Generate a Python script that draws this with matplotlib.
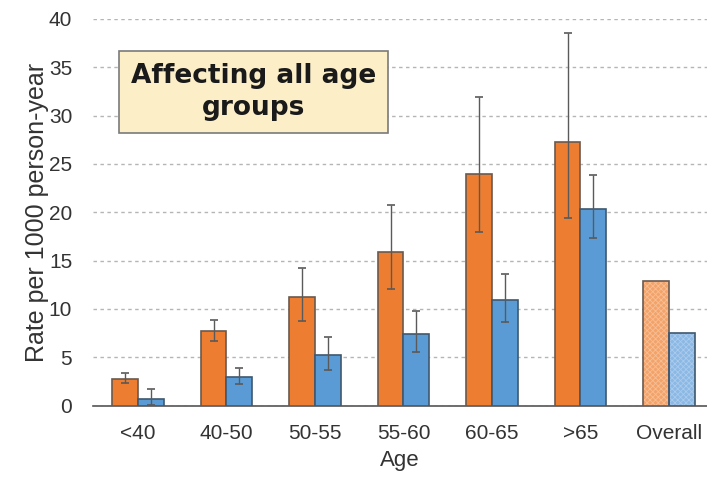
import numpy as np
import matplotlib.pyplot as plt

# data
ages = ['<40', '40-50', '50-55', '55-60', '60-65', '>65', 'Overall']
orange = [2.7, 7.7, 11.2, 15.9, 24.0, 27.3, 12.9]
orange_lo = [2.3, 6.7, 8.7, 12.1, 18.0, 19.4]
orange_hi = [3.35, 8.8, 14.2, 20.8, 31.9, 38.5]
blue = [0.7, 2.95, 5.2, 7.45, 10.9, 20.3, 7.5]
blue_lo = [0.1, 2.2, 3.7, 5.5, 8.6, 17.3]
blue_hi = [1.7, 3.9, 7.1, 9.8, 13.6, 23.9]

plt.rcParams['font.family'] = ['Liberation Sans', 'DejaVu Sans']
plt.rcParams['hatch.linewidth'] = 0.6

fig = plt.figure(figsize=(7.07, 4.82), dpi=100)
ax = fig.add_axes([0.1315, 0.1587, 0.8685, 0.8019])

x = np.arange(len(ages))
w = 0.29
n = len(orange_lo)
c_or, c_bl = '#ED7D31', '#5B9BD5'
e_or, e_bl = '#6b5a4e', '#3f5870'

ax.bar(x[:n] - w / 2, orange[:n], w, color=c_or, edgecolor=e_or, linewidth=1.2, zorder=3)
ax.bar(x[:n] + w / 2, blue[:n], w, color=c_bl, edgecolor=e_bl, linewidth=1.2, zorder=3)

# overall bars: lighter, fine texture
ax.bar(x[n:] - w / 2, orange[n:], w, color='#F3A36A', edgecolor='#F7BE94', hatch='xxxxxx',
       linewidth=0, zorder=3)
ax.bar(x[n:] + w / 2, blue[n:], w, color='#8BB8E4', edgecolor='#AACBEC', hatch='xxxxxx',
       linewidth=0, zorder=3)
ax.bar(x[n:] - w / 2, orange[n:], w, fill=False, edgecolor=e_or, linewidth=1.2, zorder=4)
ax.bar(x[n:] + w / 2, blue[n:], w, fill=False, edgecolor=e_bl, linewidth=1.2, zorder=4)

# error bars
o_err = [np.array(orange[:n]) - np.array(orange_lo), np.array(orange_hi) - np.array(orange[:n])]
b_err = [np.array(blue[:n]) - np.array(blue_lo), np.array(blue_hi) - np.array(blue[:n])]
ax.errorbar(x[:n] - w / 2, orange[:n], yerr=o_err, fmt='none', ecolor='#5a5a5a',
            elinewidth=1, capsize=3, capthick=1.2, zorder=5)
ax.errorbar(x[:n] + w / 2, blue[:n], yerr=b_err, fmt='none', ecolor='#5a5a5a',
            elinewidth=1, capsize=3, capthick=1.2, zorder=5)

ax.set_ylim(0, 40)
ax.set_xlim(-0.508, 6.43)
ax.set_yticks(range(0, 41, 5))
ax.set_xticks(x)
ax.set_xticklabels(ages)
ax.tick_params(axis='both', labelsize=15, colors='#333333', length=0)
ax.tick_params(axis='y', pad=15)
ax.tick_params(axis='x', pad=13)
ax.yaxis.grid(True, linestyle=(0, (2.5, 2.5)), color='#b5b5b5', linewidth=1)
ax.set_axisbelow(True)
for s in ['top', 'right', 'left']:
    ax.spines[s].set_visible(False)
ax.spines['bottom'].set_color('#555555')
ax.spines['bottom'].set_linewidth(1.2)

ax.set_xlabel('Age', fontsize=16, color='#333333', labelpad=5)
ax.set_ylabel('Rate per 1000 person-year', fontsize=18, color='#333333', labelpad=0)

ax.text(1.31, 32.45, 'Affecting all age\ngroups', fontsize=19, fontweight='bold',
        family=['DejaVu Sans'], ha='center', va='center', color='#1a1a1a',
        linespacing=1.3, zorder=6,
        bbox=dict(boxstyle='square,pad=0.45', facecolor='#FCEFC8', edgecolor='#7a7a7a',
                  linewidth=1.2))

fig.savefig('out.png', dpi=100)
